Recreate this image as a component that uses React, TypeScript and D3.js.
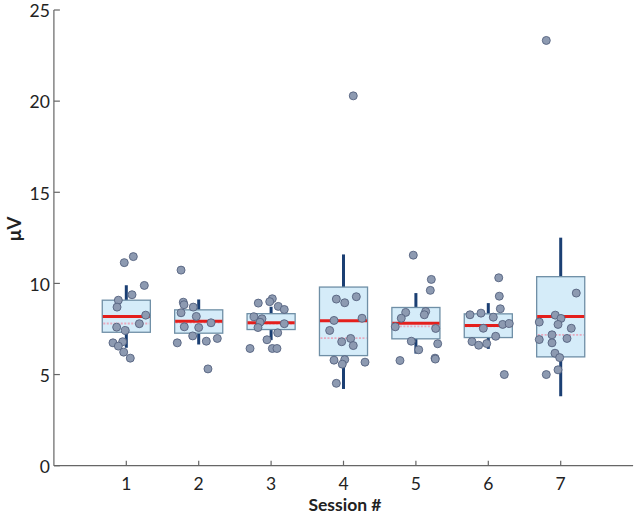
import React from "react";
import * as d3 from "d3";

const sessions = [1, 2, 3, 4, 5, 6, 7];
const q1 = [7.32, 7.27, 7.47, 6.04, 6.96, 7.03, 5.97];
const q3 = [9.08, 8.55, 8.34, 9.8, 8.68, 8.33, 10.37];
const medians = [8.19, 7.93, 7.84, 7.95, 7.82, 7.69, 8.19];
const means = [7.8, 7.85, 7.8, 7.0, 7.64, 7.65, 7.18];
const whiskerLow = [6.47, 6.65, 6.89, 4.21, 6.15, 6.41, 3.81];
const whiskerHigh = [9.9, 9.12, 8.72, 11.59, 9.47, 8.92, 12.51];

const pointValues = [
  [11.47, 11.14, 9.89, 9.38, 9.08, 8.7, 8.26, 7.79, 7.6, 7.42, 6.74, 6.8, 6.56, 6.23, 5.9],
  [10.73, 8.97, 8.83, 8.7, 8.39, 8.19, 7.84, 7.62, 7.58, 7.12, 6.98, 6.83, 6.74, 5.31],
  [9.16, 9.0, 8.92, 8.74, 8.57, 8.17, 8.06, 7.87, 7.79, 7.58, 7.29, 6.91, 6.43, 6.43, 6.43],
  [20.29, 9.14, 8.94, 9.27, 7.97, 8.09, 7.42, 6.98, 6.8, 6.59, 5.79, 5.82, 5.57, 5.68, 4.52],
  [11.55, 10.22, 9.62, 8.41, 8.46, 8.28, 8.09, 7.62, 7.53, 6.83, 6.69, 6.36, 5.77, 5.9, 5.85],
  [10.31, 9.3, 8.61, 8.28, 8.37, 8.15, 7.54, 7.75, 7.8, 7.1, 6.81, 6.61, 6.7, 5.0],
  [23.33, 9.47, 8.26, 8.08, 7.88, 7.75, 7.54, 7.18, 6.98, 6.92, 6.74, 6.17, 5.93, 5.26, 5.0],
];
const pointJitter = [
  [0.097, -0.028, 0.249, 0.079, -0.11, -0.128, 0.268, 0.18, -0.133, -0.014, -0.184, -0.05, -0.11, -0.036, 0.055],
  [-0.244, -0.213, -0.203, -0.075, -0.244, -0.033, 0.17, -0.199, 0, -0.083, 0.257, 0.105, -0.296, 0.128],
  [0.017, -0.019, -0.177, 0.099, 0.182, -0.236, -0.126, -0.153, 0.182, -0.181, 0.091, -0.057, -0.291, 0.017, 0.081],
  [0.135, -0.099, 0.017, 0.177, -0.131, 0.256, -0.191, 0.099, -0.025, 0.135, -0.131, 0.017, -0.017, 0.297, -0.099],
  [-0.036, 0.213, 0.199, -0.141, 0.135, 0.116, -0.202, -0.285, 0.273, -0.064, 0.301, 0.039, -0.22, 0.264, 0.268],
  [0.144, 0.152, 0.166, -0.253, -0.101, 0.069, -0.069, 0.199, 0.29, 0.102, -0.225, -0.133, -0.022, 0.221],
  [-0.199, 0.215, -0.075, 0.004, -0.296, -0.037, 0.146, -0.12, 0.087, -0.296, -0.12, -0.079, -0.014, -0.037, -0.199],
];
const yTicks = [0, 5, 10, 15, 20, 25];

const W = 638;
const H = 521;

export default function App() {
  const x = d3.scaleLinear().domain([0, 8]).range([53.9, 633.1]);
  const y = d3.scaleLinear().domain([0, 25]).range([465.7, 10]);
  const boxW = x(0.664) - x(0);
  const axisColor = "#666";
  const textColor = "#222";
  const font = "Lato, 'Open Sans', sans-serif";

  return (
    <svg
      width={W}
      height={H}
      style={{ position: "absolute", left: 0, top: 0, background: "#fff" }}
      fontFamily={font}
    >
      {/* axes */}
      <line x1={x(0)} x2={x(0)} y1={y(0)} y2={y(25)} stroke={axisColor} strokeWidth={1.2} />
      <line x1={x(0)} x2={x(8)} y1={y(0)} y2={y(0)} stroke={axisColor} strokeWidth={1.2} />
      {yTicks.map((t) => (
        <g key={"yt" + t}>
          <line x1={x(0)} x2={x(0) + 6} y1={y(t)} y2={y(t)} stroke={axisColor} strokeWidth={1.2} />
          <text x={x(0) - 4} y={y(t)} dy="0.42em" textAnchor="end" fontSize={17.5} fill={textColor}>
            {t}
          </text>
        </g>
      ))}
      {sessions.map((s) => (
        <g key={"xt" + s}>
          <line x1={x(s)} x2={x(s)} y1={y(0)} y2={y(0) - 5} stroke={axisColor} strokeWidth={1.2} />
          <text x={x(s)} y={y(0) + 24} textAnchor="middle" fontSize={17.5} fill={textColor}>
            {s}
          </text>
        </g>
      ))}
      <text x={345} y={511} textAnchor="middle" fontSize={17.5} fontWeight="bold" fill={textColor}>
        Session #
      </text>
      <text
        transform={`translate(21, ${229}) rotate(-90)`}
        textAnchor="middle"
        fontSize={19}
        fontWeight="bold"
        fill={textColor}
      >
        μV
      </text>

      {/* boxes */}
      {sessions.map((s, i) => {
        const cx = x(s);
        return (
          <g key={"b" + s}>
            <line x1={cx} x2={cx} y1={y(whiskerHigh[i])} y2={y(q3[i])} stroke="#1b3f73" strokeWidth={3} />
            <line x1={cx} x2={cx} y1={y(q1[i])} y2={y(whiskerLow[i])} stroke="#1b3f73" strokeWidth={3} />
            <rect
              x={cx - boxW / 2}
              y={y(q3[i])}
              width={boxW}
              height={y(q1[i]) - y(q3[i])}
              fill="#d5ecf9"
              stroke="#6f8fa6"
              strokeWidth={1.3}
            />
            <line
              x1={cx - boxW / 2 + 1}
              x2={cx + boxW / 2 - 1}
              y1={y(means[i])}
              y2={y(means[i])}
              stroke="#e7a9bd"
              strokeWidth={1.8}
              strokeDasharray="2,1.5"
            />
            <line
              x1={cx - boxW / 2 + 0.5}
              x2={cx + boxW / 2 - 0.5}
              y1={y(medians[i])}
              y2={y(medians[i])}
              stroke="#e41f1c"
              strokeWidth={3}
            />
          </g>
        );
      })}

      {/* points */}
      {sessions.map((s, i) => (
        <g key={"p" + s}>
          {pointValues[i].map((v, j) => (
            <circle
              key={j}
              cx={x(s + pointJitter[i][j])}
              cy={y(v)}
              r={4}
              fill="#8d9ab1"
              stroke="#55627f"
              strokeWidth={0.9}
            />
          ))}
        </g>
      ))}
    </svg>
  );
}
